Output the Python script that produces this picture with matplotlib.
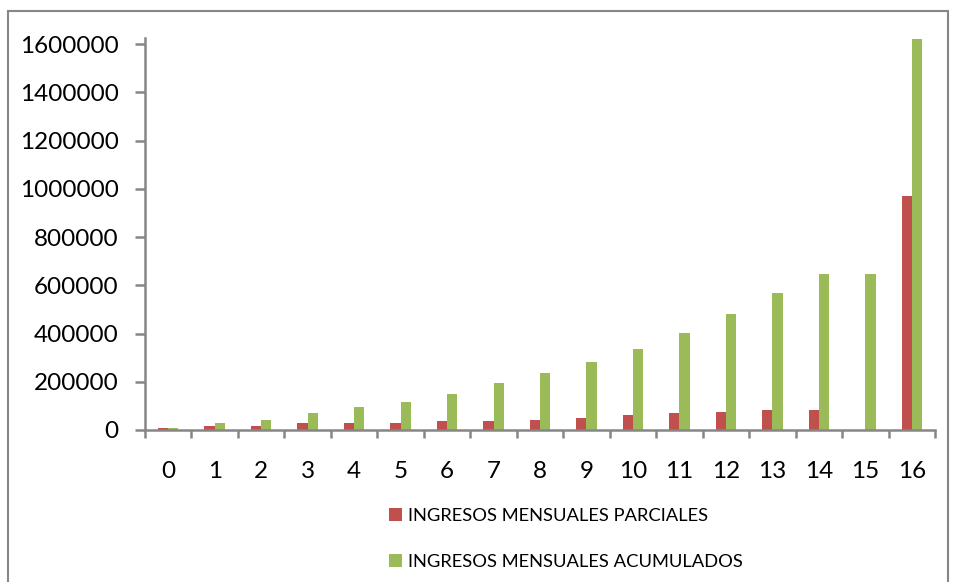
import numpy as np
import matplotlib as mpl

mpl.use('Agg')
import matplotlib.pyplot as plt
from matplotlib.patches import Rectangle

plt.rcParams['font.family'] = ['Lato', 'DejaVu Sans']

# Data
months = [str(i) for i in range(17)]
parciales = [8000, 16000, 16000, 29000, 29000, 29000, 37000, 37000, 41000,
             50000, 62000, 70000, 75000, 83000, 83000, 0, 970000]
acumulados = [8000, 29000, 41000, 70000, 95000, 116000, 149000, 195000, 236000,
              282000, 336000, 402000, 481000, 568000, 647000, 647000, 1620000]
yticks = [0, 200000, 400000, 600000, 800000, 1000000, 1200000, 1400000, 1600000]

red = '#C0504D'
green = '#9BBB59'
grey = '#868686'

fig = plt.figure(figsize=(9.56, 5.82), dpi=100)
ax = fig.add_axes([145 / 956, 1 - 430 / 582, (935 - 145) / 956, (430 - 38) / 582])

x = np.arange(len(months))
w = 0.22
ax.bar(x - w / 2, parciales, w, color=red, label='INGRESOS MENSUALES PARCIALES')
ax.bar(x + w / 2, acumulados, w, color=green, label='INGRESOS MENSUALES ACUMULADOS')

ax.set_xlim(-0.5, len(months) - 0.5)
ax.set_ylim(0, 1625000)
ax.set_yticks(yticks)
ax.set_yticklabels([str(v) for v in yticks], fontsize=17.5)
ax.set_xticks(x)
ax.set_xticklabels(months, fontsize=17.5)
ax.set_xticks(np.arange(-0.5, len(months)), minor=True)

ax.tick_params(axis='x', which='major', length=0, pad=22)
ax.tick_params(axis='x', which='minor', length=6, width=1.8, color=grey, direction='out')
ax.tick_params(axis='y', length=7, width=1.8, color=grey, pad=12)

for s in ['top', 'right']:
    ax.spines[s].set_visible(False)
for s in ['left', 'bottom']:
    ax.spines[s].set_color(grey)
    ax.spines[s].set_linewidth(1.8)

fig.legend(loc='upper left', bbox_to_anchor=(389 / 956, 1 - 508 / 582),
           frameon=False, fontsize=13.2, handlelength=0.7, handleheight=0.7,
           handletextpad=0.35, labelspacing=1.65, borderpad=0, borderaxespad=0)

# outer chart border
fig.patches.append(Rectangle((8 / 956, -0.02), 940 / 956, 1.02 - 11 / 582,
                             transform=fig.transFigure, fill=False,
                             edgecolor=grey, linewidth=1.5))

plt.savefig('out.png', dpi=100)
